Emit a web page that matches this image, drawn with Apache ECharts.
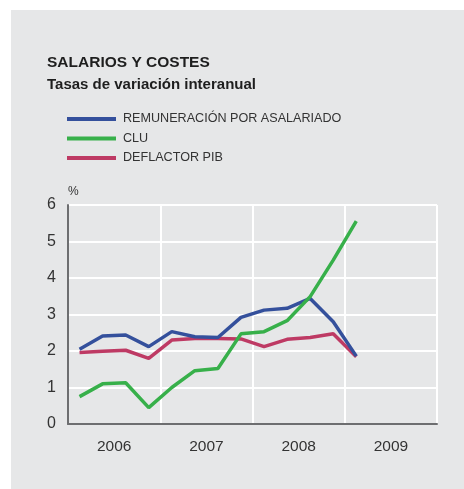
<!DOCTYPE html>
<html>
<head>
<meta charset="utf-8">
<script src="https://cdn.jsdelivr.net/npm/echarts@6/dist/echarts.min.js"></script>
<style>
  html, body { margin: 0; padding: 0; background: #ffffff; }
  #chart { width: 464px; height: 489px; }
</style>
</head>
<body>
<div id="chart"></div>
<script>
// quarters 2006 Q1 .. 2009 Q4
var quarters = ['06T1','06T2','06T3','06T4','07T1','07T2','07T3','07T4',
                '08T1','08T2','08T3','08T4','09T1','09T2','09T3','09T4'];
var years = ['2006', '2007', '2008', '2009'];

var remuneracion = [2.05, 2.41, 2.44, 2.12, 2.53, 2.39, 2.37, 2.92, 3.12, 3.17, 3.44, 2.80, 1.86];
var clu = [0.75, 1.10, 1.13, 0.45, 1.00, 1.46, 1.52, 2.47, 2.53, 2.83, 3.49, 4.49, 5.56];
var deflactor = [1.96, 1.99, 2.02, 1.80, 2.30, 2.34, 2.34, 2.33, 2.12, 2.32, 2.37, 2.47, 1.84];

var font = 'Liberation Sans';
var myChart = echarts.init(document.getElementById('chart'));

var option = {
	backgroundColor: '#ffffff',
	animation: false,
	textStyle: { fontFamily: font },
	graphic: [
		{
			type: 'rect',
			z: -10,
			shape: { x: 11, y: 10, width: 453, height: 479 },
			style: { fill: '#e6e7e8' }
		}
	],
	title: {
		left: 42,
		top: 50,
		text: 'SALARIOS Y COSTES',
		subtext: 'Tasas de variación interanual',
		itemGap: 6,
		textStyle: { fontFamily: font, fontSize: 15.5, fontWeight: 'bold', color: '#1e1e1e' },
		subtextStyle: { fontFamily: font, fontSize: 15, fontWeight: 'bold', color: '#1e1e1e' }
	},
	legend: {
		orient: 'vertical',
		left: 62,
		top: 107,
		icon: 'rect',
		itemWidth: 49,
		itemHeight: 4,
		itemGap: 5.5,
		textStyle: { fontFamily: font, fontSize: 12.6, color: '#333333', lineHeight: 14, padding: [0, 0, 0, 2] },
		data: ['REMUNERACIÓN POR ASALARIADO', 'CLU', 'DEFLACTOR PIB']
	},
	grid: { left: 68, right: 27, top: 205, bottom: 65 },
	xAxis: [
		{
			type: 'category',
			data: quarters,
			boundaryGap: true,
			show: false
		},
		{
			type: 'category',
			data: years,
			boundaryGap: true,
			position: 'bottom',
			axisLine: { show: true, lineStyle: { color: '#6d6e70', width: 2 } },
			axisTick: { show: false },
			axisLabel: { fontFamily: font, fontSize: 15.5, color: '#333333', margin: 15 },
			splitLine: { show: true, lineStyle: { color: '#ffffff', width: 2 } }
		}
	],
	yAxis: {
		type: 'value',
		min: 0,
		max: 6,
		interval: 1,
		name: '%',
		nameLocation: 'end',
		nameGap: 7,
		nameTextStyle: { fontFamily: font, fontSize: 12, color: '#333333', align: 'left', padding: [0, 0, 0, 0] },
		axisLine: { show: true, lineStyle: { color: '#6d6e70', width: 2 } },
		axisTick: { show: false },
		axisLabel: { fontFamily: font, fontSize: 16, color: '#333333', margin: 12 },
		splitLine: { show: true, lineStyle: { color: '#ffffff', width: 2 } }
	},
	series: [
		{
			name: 'REMUNERACIÓN POR ASALARIADO',
			type: 'line',
			xAxisIndex: 0,
			data: remuneracion,
			symbol: 'none',
			color: '#34509c',
			lineStyle: { width: 3.5, color: '#34509c' },
			z: 3
		},
		{
			name: 'CLU',
			type: 'line',
			xAxisIndex: 0,
			data: clu,
			symbol: 'none',
			color: '#37b04a',
			lineStyle: { width: 3.5, color: '#37b04a' },
			z: 4
		},
		{
			name: 'DEFLACTOR PIB',
			type: 'line',
			xAxisIndex: 0,
			data: deflactor,
			symbol: 'none',
			color: '#be3a64',
			lineStyle: { width: 3.5, color: '#be3a64' },
			z: 2
		}
	]
};

myChart.setOption(option);
</script>
</body>
</html>
